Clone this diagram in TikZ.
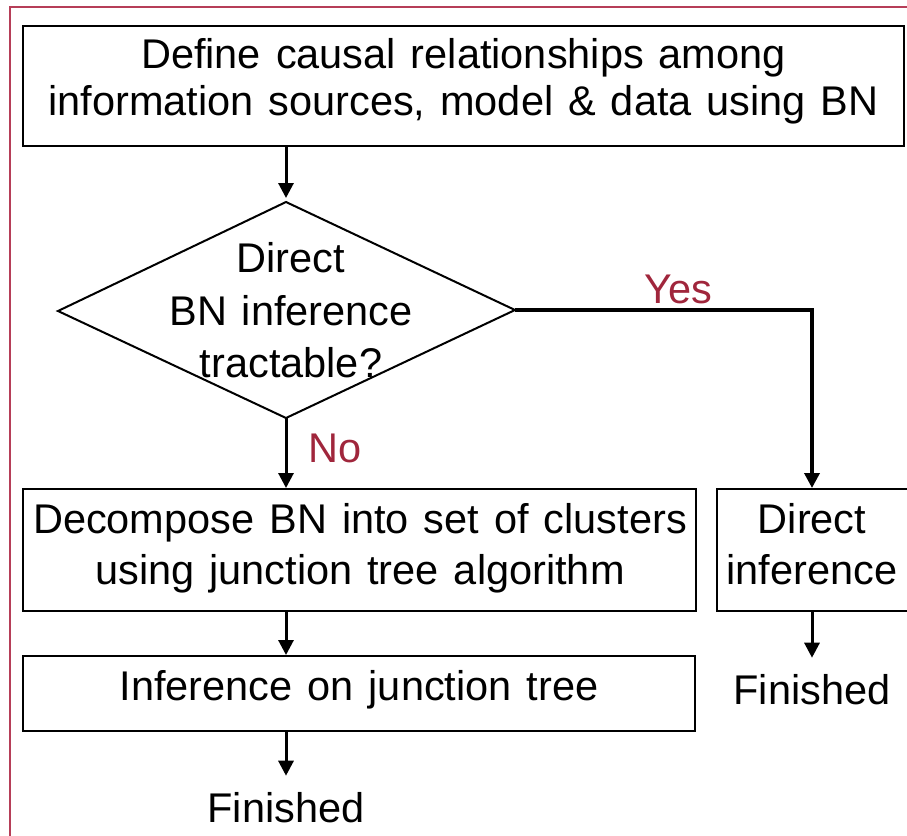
\documentclass[tikz,border=0pt]{standalone}
\usepackage{fontspec}
\setmainfont[WordSpace=1.3]{Liberation Sans}
\usetikzlibrary{arrows.meta}

\definecolor{framered}{RGB}{182,62,88}
\definecolor{answerred}{RGB}{160,38,60}

\tikzset{
  box/.style={draw=black, line width=2pt, inner sep=0pt, fill=none},
  txt/.style={inner sep=0pt, align=center, font=\fontsize{41.5}{47}\selectfont},
  ans/.style={inner sep=0pt, text=answerred, font=\fontsize{41.5}{47}\selectfont, anchor=base},
  flow/.style={line width=3pt, -{Triangle[width=15pt,length=15pt]}},
}

\begin{document}
\begin{tikzpicture}[x=1pt, y=-1pt]
  \useasboundingbox (0,0) rectangle (907,835);
  \clip (0,0) rectangle (907,835);

  % outer frame (runs past the right and bottom edges)
  \draw[framered, line width=1.5pt] (10,930) -- (10,7) -- (1000,7);

  % process boxes
  \node[box, minimum width=881pt, minimum height=120pt] (define) at (463.5,86) {};
  \node[box, minimum width=673pt, minimum height=122pt] (decomp) at (359.5,550) {};
  \node[box, minimum width=200pt, minimum height=122pt] (direct) at (817,550) {};
  \node[box, minimum width=672pt, minimum height=75pt]  (infer)  at (359,693.5) {};

  % decision diamond
  \coordinate (dT) at (286,202);
  \coordinate (dR) at (515,310);
  \coordinate (dB) at (286,418);
  \coordinate (dL) at (58,311);
  \draw[line width=2pt, line join=miter] (dT) -- (dR) -- (dB) -- (dL) -- cycle;

  % box and decision texts
  \node[txt] (definetxt) at (463.5,82.1)
    {\strut Define causal relationships among\\\strut information sources, model \& data using BN};
  \node[txt, font=\fontsize{41.5}{52.5}\selectfont] (asktxt) at (291,314.5)
    {\strut Direct\\\strut BN inference\\\strut tractable?};
  \node[txt, font=\fontsize{41.5}{51}\selectfont] (decomptxt) at (360,548.3)
    {\strut Decompose BN into set of clusters\\\strut using junction tree algorithm};
  \node[txt, font=\fontsize{41.5}{51}\selectfont] (directtxt) at (812,548.3)
    {\strut Direct\\\strut inference};
  \node[txt, anchor=base] (infertxt) at (359,700) {Inference on junction tree};

  % end labels
  \node[txt, anchor=base] (finA) at (286,822) {Finished};
  \node[txt, anchor=base] (finB) at (812,704) {Finished};

  % branch labels
  \node[ans] (yes) at (678.5,303) {Yes};
  \node[ans] (no)  at (335,462) {No};

  % connectors
  \draw[flow, shorten >=4pt] (dT |- define.south) -- (dT);
  \draw[flow, line width=3.5pt, line join=miter] (dR) -| (direct.north -| finB);
  \draw[flow] (dB) -- (dB |- decomp.north);
  \draw[flow] (dB |- decomp.south) -- (dB |- infer.north);
  \draw[flow] (dB |- infer.south) -- ([yshift=16pt]finA.north);
  \draw[flow] (finB |- direct.south) -- ([yshift=16pt]finB.north);
\end{tikzpicture}
\end{document}
